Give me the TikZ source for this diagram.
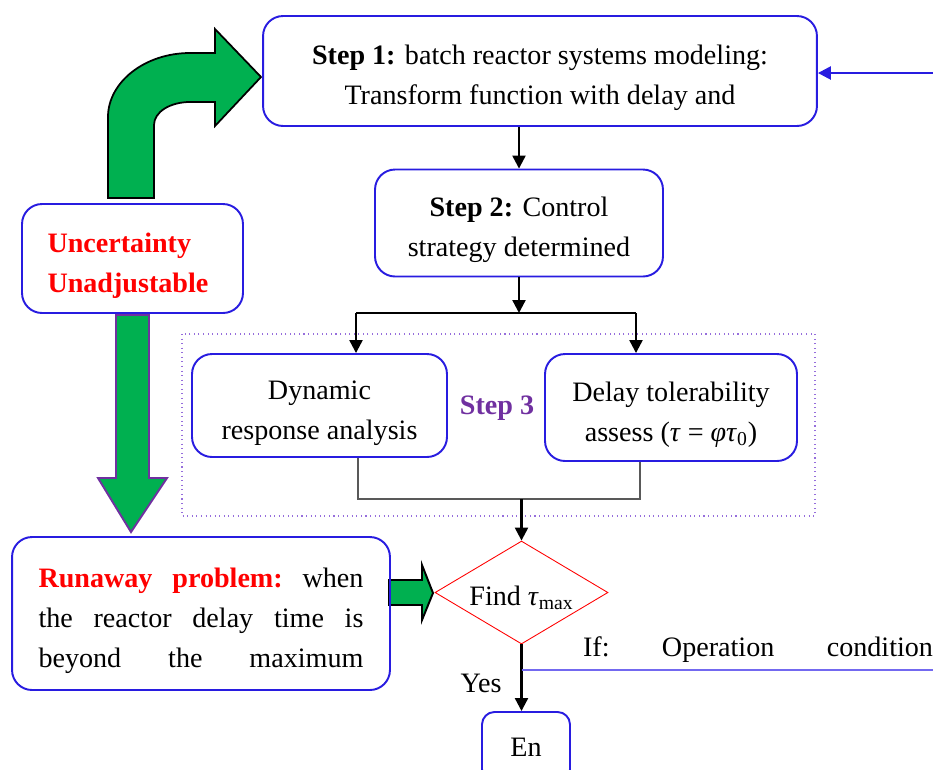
\documentclass[tikz,border=0pt]{standalone}
\usepackage{fontspec}
\setmainfont{Liberation Serif}
\usetikzlibrary{arrows.meta,shapes.geometric}
\definecolor{boxblue}{RGB}{40,28,224}
\definecolor{stepviolet}{RGB}{112,48,160}
\definecolor{framecol}{RGB}{150,110,220}
\definecolor{arrowgreen}{RGB}{0,176,80}
\definecolor{linkblue}{RGB}{115,105,240}
\newcommand{\tallstrut}{\rule{0pt}{19pt}}
\tikzset{
  every node/.style={font=\fontsize{16}{22.8}\selectfont},
  stepbox/.style={draw=boxblue,line width=1.1pt,rounded corners=0.4cm,align=center,inner sep=0pt},
  arr/.style={line width=1.3pt,-{Triangle[length=2.6mm,width=2.6mm]}},
  fatarrow/.style={fill=arrowgreen,line width=1pt,line join=miter}
}

\begin{document}
\begin{tikzpicture}[x=0.02cm,y=-0.02cm]
\useasboundingbox (0,0) rectangle (933,769);
\draw [framecol,dotted,line width=0.6pt] (182,334) rectangle (815,516);
\draw [fatarrow] (108,198) -- (108,117) .. controls (108,82) and (145,53) .. (190,53) -- (215,53) -- (215,29) -- (261,77) -- (215,126) -- (215,102) -- (190,102) .. controls (170,102) and (154,112) .. (154,125) -- (154,198) -- cycle;
\draw [fatarrow,draw=stepviolet,line width=1.1pt] (116,315) -- (116,478) -- (98,478) -- (131,532) -- (167,478) -- (149,478) -- (149,315) -- cycle;
\draw [fatarrow,line width=1.1pt] (389,580) -- (422,580) -- (422,565) -- (433,593) -- (422,620) -- (422,605) -- (389,605) -- cycle;
\node [stepbox,minimum width=11.08cm,minimum height=2.2cm] (step1) at (540,71) {\tallstrut\textbf{Step 1:} batch reactor systems modeling:\\Transform function with delay and};
\node [stepbox,minimum width=5.76cm,minimum height=2.14cm] (step2) at (519,223) {\tallstrut\textbf{Step 2:} Control\\strategy determined};
\node [stepbox,minimum width=5.1cm,minimum height=2.06cm] (dyn) at (319.5,405.5) {\tallstrut Dynamic\\response analysis};
\node [stepbox,minimum width=5.04cm,minimum height=2.14cm] (delay) at (671,407.5) {\tallstrut Delay tolerability\\assess (\textit{τ} = \textit{φτ}\textsubscript{0})};
\node [text=stepviolet] (step3) at (497,408) {\textbf{Step 3}};
\node [stepbox,minimum width=4.42cm,minimum height=2.18cm,text width=3.4cm,align=left,text=red] (unc) at (132.5,258.5) {\tallstrut\textbf{Uncertainty}\\\textbf{Unadjustable}};
\node [stepbox,minimum width=7.56cm,minimum height=3.06cm,text width=6.5cm,align=left] (runaway) at (201,613.5) {\makebox[6.5cm]{\tallstrut\textcolor{red}{\textbf{Runaway\hfill problem:}}\hfill when}\\\makebox[6.5cm]{the\hfill reactor\hfill delay\hfill time\hfill is}\\\makebox[6.5cm]{beyond\hfill the\hfill maximum}};
\node [draw=red,diamond,aspect=1.68,line width=0.5pt,minimum width=3.46cm,minimum height=2.06cm,inner sep=0pt] (find) at (521.5,592.5) {\rule{0pt}{17pt}Find \textit{τ}\textsubscript{max}};
\node [stepbox,anchor=north,minimum width=1.76cm,minimum height=1.4cm,rounded corners=0.25cm] (end) at (526,711) {En};
\node (yes) at (481,683) {Yes};
\node (cond) at (758,650) {\makebox[7cm]{If:\hfill Operation\hfill condition}};
\coordinate (loopin) at (933,73);
\coordinate (split) at (519,313);
\coordinate (jl) at (356,313);
\coordinate (jr) at (636,313);
\coordinate (ml) at (358,499);
\coordinate (mr) at (640,499);
\coordinate (ifend) at (933,670);
\draw [arr,boxblue,line width=1.4pt] (loopin) -- (step1.east |- loopin);
\draw [arr] (step2.north |- step1.south) -- (step2.north);
\draw [arr] (step2.south) -- (split);
\draw [line width=0.8pt] (jl) -- (jr);
\draw [arr] (jl) -- (jl |- dyn.north);
\draw [arr] (jr) -- (jr |- delay.north);
\draw [gray!70!black,line width=0.6pt] (ml |- dyn.south) -- (ml) -- (mr) -- (mr |- delay.south);
\draw [arr] (find.north |- ml) -- (find.north);
\draw [arr] (find.south) -- (find.south |- end.north);
\draw [linkblue,line width=0.8pt] (find.south |- ifend) -- (ifend);
\end{tikzpicture}
\end{document}
